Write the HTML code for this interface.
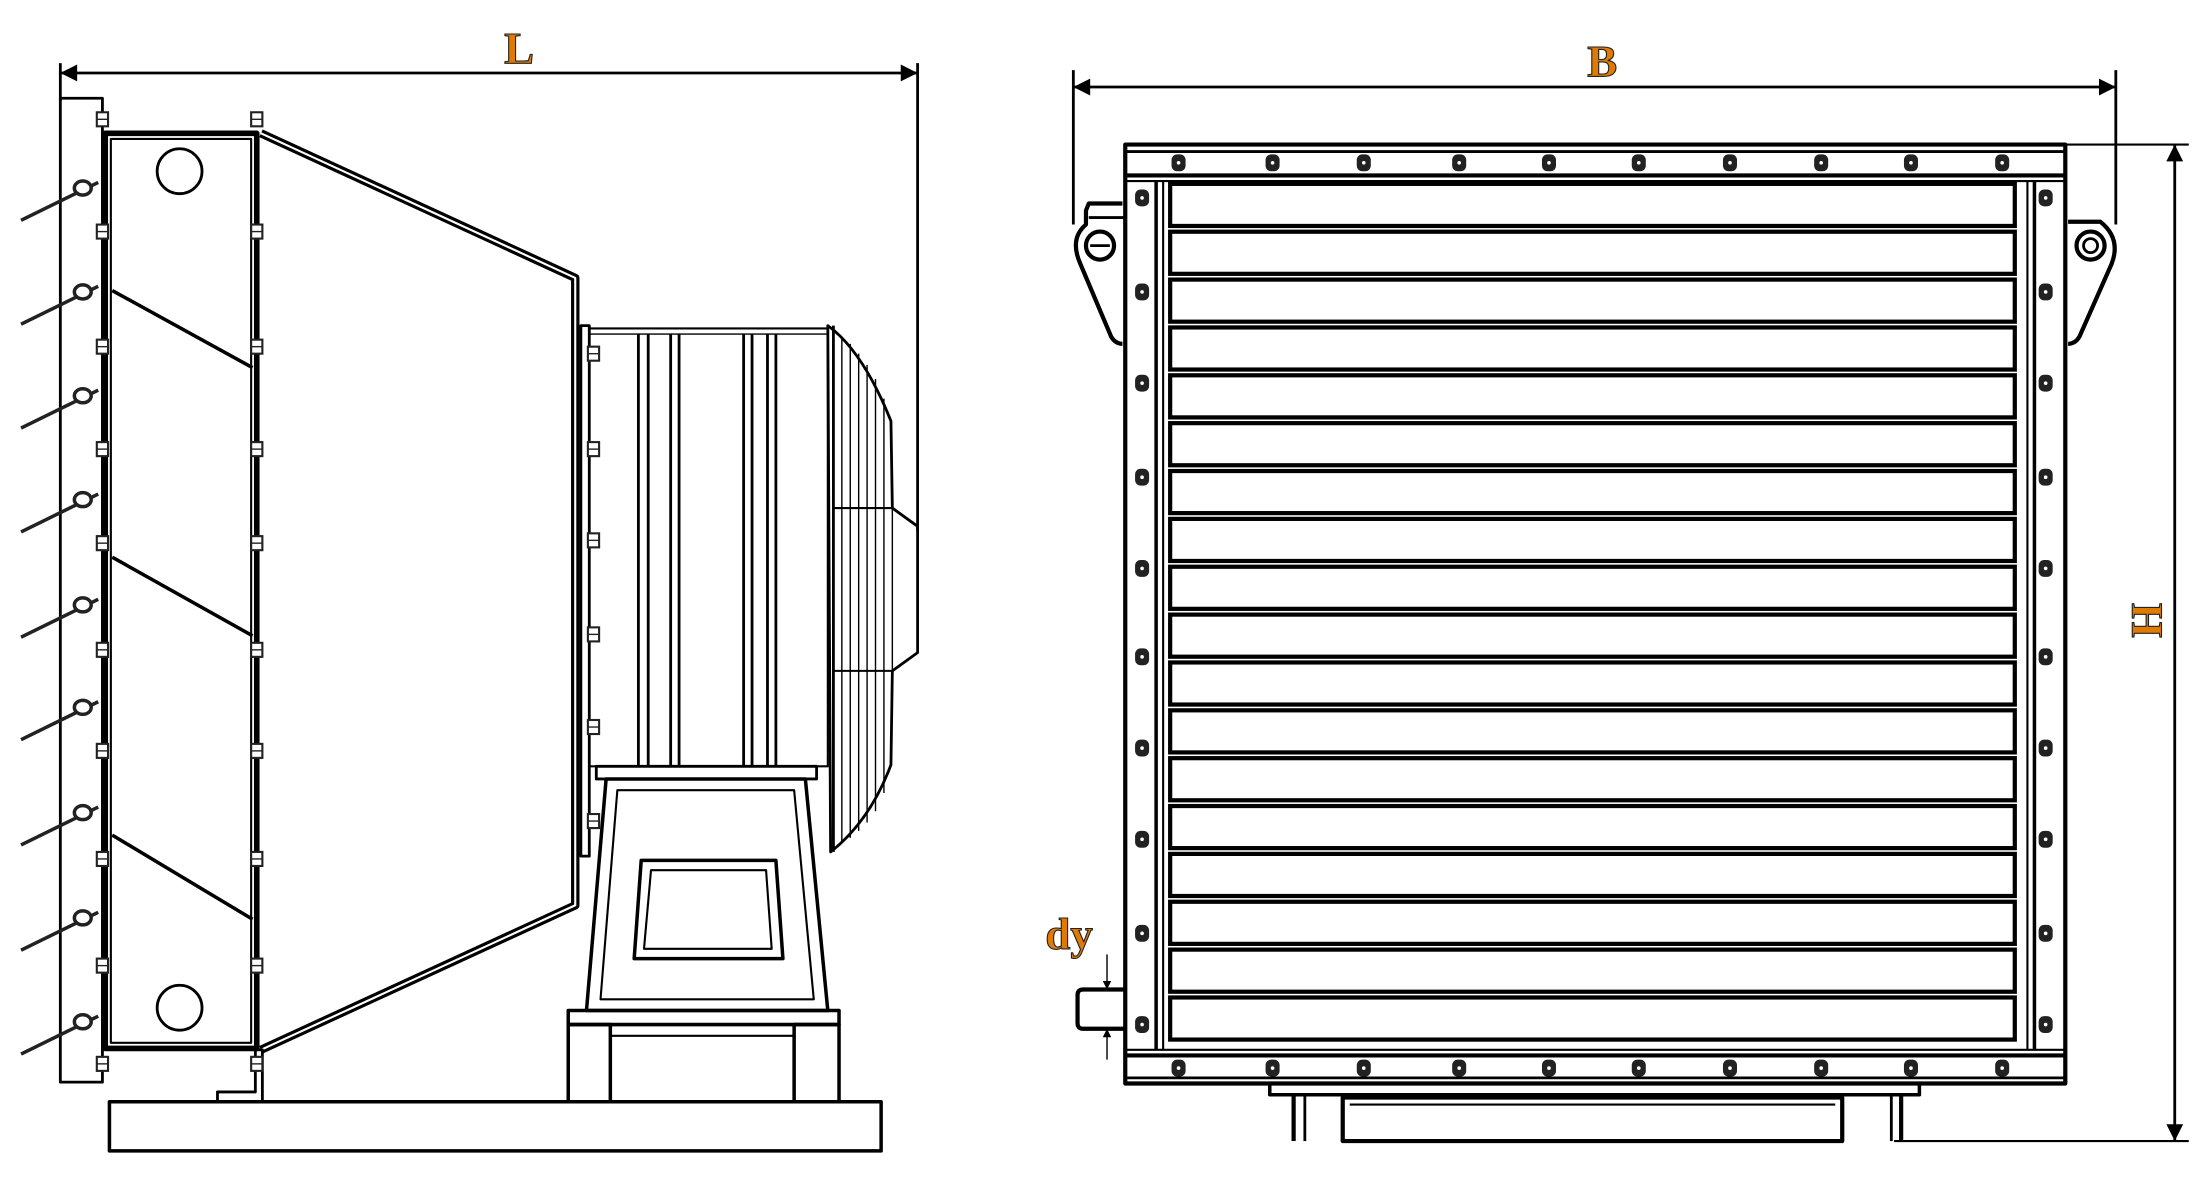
<!DOCTYPE html>
<html><head><meta charset="utf-8"><style>
html,body{margin:0;padding:0;background:#fff;width:2200px;height:1200px;overflow:hidden}
svg{display:block}
.t{font-family:"Liberation Serif",serif;font-weight:bold;fill:#e07b00;stroke:#222;stroke-width:0.8}
</style></head><body>
<svg width="2200" height="1200" viewBox="0 0 1568 855" preserveAspectRatio="none" xmlns="http://www.w3.org/2000/svg">
<defs>
<marker id="ar" viewBox="0 0 10 10" refX="10" refY="5" markerWidth="8" markerHeight="6" orient="auto-start-reverse"><path d="M0,0 L10,5 L0,10 z" fill="#000"/></marker>
<g id="bolt"><rect x="-5" y="-6" width="10" height="12" rx="4" fill="#222"/><circle r="1.3" fill="#fff"/></g>
<g id="tab"><rect x="-4" y="-5" width="8" height="10" fill="#fff" stroke="#222" stroke-width="1.5"/><line x1="-4" y1="0" x2="4" y2="0" stroke="#222"/></g>
<rect id="slat" x="834" y="0" width="602" height="30" fill="none" stroke="#000" stroke-width="3"/>
<g id="rod"><line x1="15" y1="27" x2="70" y2="0" stroke="#222" stroke-width="2.5"/><ellipse cx="59" cy="4" rx="6" ry="5" fill="#fff" stroke="#222" stroke-width="2.5"/></g>
</defs>
<g fill="none" stroke="#000" stroke-linejoin="round">
<line x1="43" y1="52" x2="654" y2="52" stroke-width="2" marker-start="url(#ar)" marker-end="url(#ar)"/>
<line x1="43" y1="45" x2="43" y2="72" stroke-width="2"/>
<line x1="654" y1="45" x2="654" y2="378" stroke-width="2"/>
<rect x="43" y="70" width="30" height="701" stroke-width="2"/>
<rect x="75" y="95" width="108" height="652" stroke-width="4"/>
<rect x="79" y="99" width="100" height="644" stroke-width="1.5"/>
<circle cx="128" cy="122" r="16" stroke-width="2"/>
<circle cx="128" cy="718" r="16" stroke-width="2"/>
<line x1="80" y1="207" x2="180" y2="262" stroke-width="2.5"/>
<line x1="80" y1="397" x2="180" y2="453" stroke-width="2.5"/>
<line x1="80" y1="595" x2="180" y2="655" stroke-width="2.5"/>
<polyline points="186,95 410,198 410,645 186,748" stroke-width="6"/>
<polyline points="186,95 410,198 410,645 186,748" stroke="#fff" stroke-width="1.5"/>
<rect x="414" y="232" width="6" height="378" stroke-width="2"/>
<rect x="420" y="234" width="170" height="312" stroke-width="1.5"/>
<line x1="420" y1="238" x2="590" y2="238" stroke-width="1"/>
<g stroke-width="2">
<line x1="455" y1="238" x2="455" y2="546"/><line x1="462" y1="238" x2="462" y2="546"/>
<line x1="478" y1="238" x2="478" y2="546"/><line x1="484" y1="238" x2="484" y2="546"/>
<line x1="530" y1="238" x2="530" y2="546"/><line x1="536" y1="238" x2="536" y2="546"/>
<line x1="547" y1="238" x2="547" y2="546"/><line x1="553" y1="238" x2="553" y2="546"/>
</g>
<path d="M590,232 Q615,250 635,300 L636,362 L654,375 L654,465 L636,478 L635,545 Q620,585 592,607 Z" stroke-width="2"/>
<line x1="594" y1="232" x2="594" y2="607" stroke-width="2"/>
<line x1="594" y1="362" x2="636" y2="362" stroke-width="1.5"/>
<line x1="594" y1="478" x2="636" y2="478" stroke-width="1.5"/>
<line x1="636" y1="362" x2="636" y2="478" stroke-width="1"/>
<g stroke-width="1">
<line x1="600" y1="240" x2="600" y2="600"/><line x1="606" y1="245" x2="606" y2="597"/><line x1="612" y1="252" x2="612" y2="592"/><line x1="618" y1="260" x2="618" y2="586"/><line x1="624" y1="270" x2="624" y2="578"/><line x1="630" y1="284" x2="630" y2="565"/>
</g>
<rect x="425" y="546" width="157" height="9" stroke-width="2"/>
<polygon points="432,555 574,555 590,720 418,720" stroke-width="2.5"/>
<polygon points="440,563 566,563 580,712 428,712" stroke-width="1.5"/>
<polygon points="457,613 553,613 558,683 452,683" stroke-width="2.5"/>
<polygon points="464,620 546,620 550,676 459,676" stroke-width="1.5"/>
<rect x="405" y="720" width="193" height="10" stroke-width="2.5"/>
<rect x="405" y="730" width="30" height="55" stroke-width="2.5"/>
<rect x="566" y="730" width="32" height="55" stroke-width="2.5"/>
<line x1="435" y1="738" x2="566" y2="738" stroke-width="1.5"/>
<rect x="78" y="785" width="550" height="35" stroke-width="2.5"/>
<polyline points="155,785 155,778 182,778 182,748 187,748 187,785" stroke-width="2"/>

<line x1="765" y1="62" x2="1508" y2="62" stroke-width="2" marker-start="url(#ar)" marker-end="url(#ar)"/>
<line x1="765" y1="50" x2="765" y2="160" stroke-width="2"/>
<line x1="1508" y1="50" x2="1508" y2="160" stroke-width="2"/>
<line x1="1550" y1="103" x2="1550" y2="813" stroke-width="2" marker-start="url(#ar)" marker-end="url(#ar)"/>
<line x1="1472" y1="103" x2="1560" y2="103" stroke-width="1.5"/>
<line x1="1350" y1="813" x2="1560" y2="813" stroke-width="1.5"/>
<rect x="802" y="103" width="670" height="669" stroke-width="3"/>
<line x1="802" y1="108" x2="1472" y2="108" stroke-width="2"/>
<line x1="802" y1="125" x2="1472" y2="125" stroke-width="3"/>
<line x1="802" y1="129" x2="1472" y2="129" stroke-width="1.5"/>
<line x1="802" y1="748" x2="1472" y2="748" stroke-width="1.5"/>
<line x1="802" y1="752" x2="1472" y2="752" stroke-width="3"/>
<line x1="802" y1="768" x2="1472" y2="768" stroke-width="2"/>
<line x1="824" y1="129" x2="824" y2="748" stroke-width="2.5"/>
<line x1="829" y1="129" x2="829" y2="748" stroke-width="1.5"/>
<line x1="1450" y1="129" x2="1450" y2="748" stroke-width="2.5"/>
<line x1="1445" y1="129" x2="1445" y2="748" stroke-width="1.5"/>
<path d="M800,145 L776,145 L774,150 L774,160 Q762,170 770,188 L792,240 Q795,245 800,245" stroke-width="3"/>
<line x1="776" y1="155" x2="802" y2="155" stroke-width="2"/>
<circle cx="784" cy="175" r="10" stroke-width="3"/>
<line x1="777" y1="175" x2="791" y2="175" stroke-width="2"/>
<path d="M1474,158 L1497,158 Q1512,170 1505,188 L1482,240 Q1479,245 1474,245" stroke-width="3"/>
<circle cx="1490" cy="175" r="10" stroke-width="3"/>
<circle cx="1490" cy="175" r="5" stroke-width="2"/>
<path d="M802,705 L772,705 Q768,705 768,709 L768,729 Q768,733 772,733 L802,733" stroke-width="3"/>
<line x1="789" y1="680" x2="789" y2="705" stroke-width="1" marker-end="url(#ar)"/>
<line x1="789" y1="755" x2="789" y2="733" stroke-width="1" marker-end="url(#ar)"/>
<rect x="905" y="772" width="463" height="8" stroke-width="2.5"/>
<line x1="922" y1="780" x2="922" y2="813" stroke-width="3"/>
<line x1="930" y1="780" x2="930" y2="813" stroke-width="2"/>
<rect x="957" y="782" width="356" height="31" stroke-width="3"/>
<line x1="962" y1="787" x2="1308" y2="787" stroke-width="1.5"/>
<line x1="1348" y1="780" x2="1348" y2="813" stroke-width="2"/>
<line x1="1355" y1="780" x2="1355" y2="813" stroke-width="3"/>
</g>
<use href="#slat" y="131"/><use href="#slat" y="165.1"/><use href="#slat" y="199.2"/><use href="#slat" y="233.3"/><use href="#slat" y="267.4"/><use href="#slat" y="301.5"/><use href="#slat" y="335.6"/><use href="#slat" y="369.7"/><use href="#slat" y="403.8"/><use href="#slat" y="437.9"/><use href="#slat" y="472"/><use href="#slat" y="506.1"/><use href="#slat" y="540.2"/><use href="#slat" y="574.3"/><use href="#slat" y="608.4"/><use href="#slat" y="642.5"/><use href="#slat" y="676.6"/><use href="#slat" y="710.7"/>
<g>
<use href="#bolt" x="840" y="116"/><use href="#bolt" x="907" y="116"/><use href="#bolt" x="972" y="116"/><use href="#bolt" x="1040" y="116"/><use href="#bolt" x="1104" y="116"/><use href="#bolt" x="1168" y="116"/><use href="#bolt" x="1233" y="116"/><use href="#bolt" x="1298" y="116"/><use href="#bolt" x="1362" y="116"/><use href="#bolt" x="1427" y="116"/>
<use href="#bolt" x="840" y="761"/><use href="#bolt" x="907" y="761"/><use href="#bolt" x="972" y="761"/><use href="#bolt" x="1040" y="761"/><use href="#bolt" x="1104" y="761"/><use href="#bolt" x="1168" y="761"/><use href="#bolt" x="1233" y="761"/><use href="#bolt" x="1298" y="761"/><use href="#bolt" x="1362" y="761"/><use href="#bolt" x="1427" y="761"/>
<use href="#bolt" x="814" y="141"/><use href="#bolt" x="814" y="208"/><use href="#bolt" x="814" y="273"/><use href="#bolt" x="814" y="340"/><use href="#bolt" x="814" y="405"/><use href="#bolt" x="814" y="468"/><use href="#bolt" x="814" y="533"/><use href="#bolt" x="814" y="598"/><use href="#bolt" x="814" y="665"/><use href="#bolt" x="814" y="730"/>
<use href="#bolt" x="1458" y="141"/><use href="#bolt" x="1458" y="208"/><use href="#bolt" x="1458" y="273"/><use href="#bolt" x="1458" y="340"/><use href="#bolt" x="1458" y="405"/><use href="#bolt" x="1458" y="468"/><use href="#bolt" x="1458" y="533"/><use href="#bolt" x="1458" y="598"/><use href="#bolt" x="1458" y="665"/><use href="#bolt" x="1458" y="730"/>
</g>
<g>
<use href="#tab" x="73" y="85"/><use href="#tab" x="73" y="165"/><use href="#tab" x="73" y="247"/><use href="#tab" x="73" y="320"/><use href="#tab" x="73" y="387"/><use href="#tab" x="73" y="463"/><use href="#tab" x="73" y="535"/><use href="#tab" x="73" y="612"/><use href="#tab" x="73" y="688"/><use href="#tab" x="73" y="758"/>
<use href="#tab" x="183" y="85"/><use href="#tab" x="183" y="165"/><use href="#tab" x="183" y="247"/><use href="#tab" x="183" y="320"/><use href="#tab" x="183" y="387"/><use href="#tab" x="183" y="463"/><use href="#tab" x="183" y="535"/><use href="#tab" x="183" y="612"/><use href="#tab" x="183" y="688"/><use href="#tab" x="183" y="758"/>
<use href="#tab" x="423" y="252"/><use href="#tab" x="423" y="320"/><use href="#tab" x="423" y="385"/><use href="#tab" x="423" y="452"/><use href="#tab" x="423" y="518"/><use href="#tab" x="423" y="585"/>
</g>
<use href="#rod" x="0" y="130"/><use href="#rod" x="0" y="204"/><use href="#rod" x="0" y="278"/><use href="#rod" x="0" y="352"/><use href="#rod" x="0" y="427"/><use href="#rod" x="0" y="500"/><use href="#rod" x="0" y="575"/><use href="#rod" x="0" y="650"/><use href="#rod" x="0" y="724"/>
<text class="t" x="370" y="45" font-size="32" text-anchor="middle">L</text>
<text class="t" x="1142" y="54" font-size="32" text-anchor="middle">B</text>
<text class="t" x="1520" y="442" font-size="32" text-anchor="middle" transform="rotate(90 1520 442)">H</text>
<text class="t" x="762" y="676" font-size="32" text-anchor="middle">dy</text>
</svg>
</body></html>
